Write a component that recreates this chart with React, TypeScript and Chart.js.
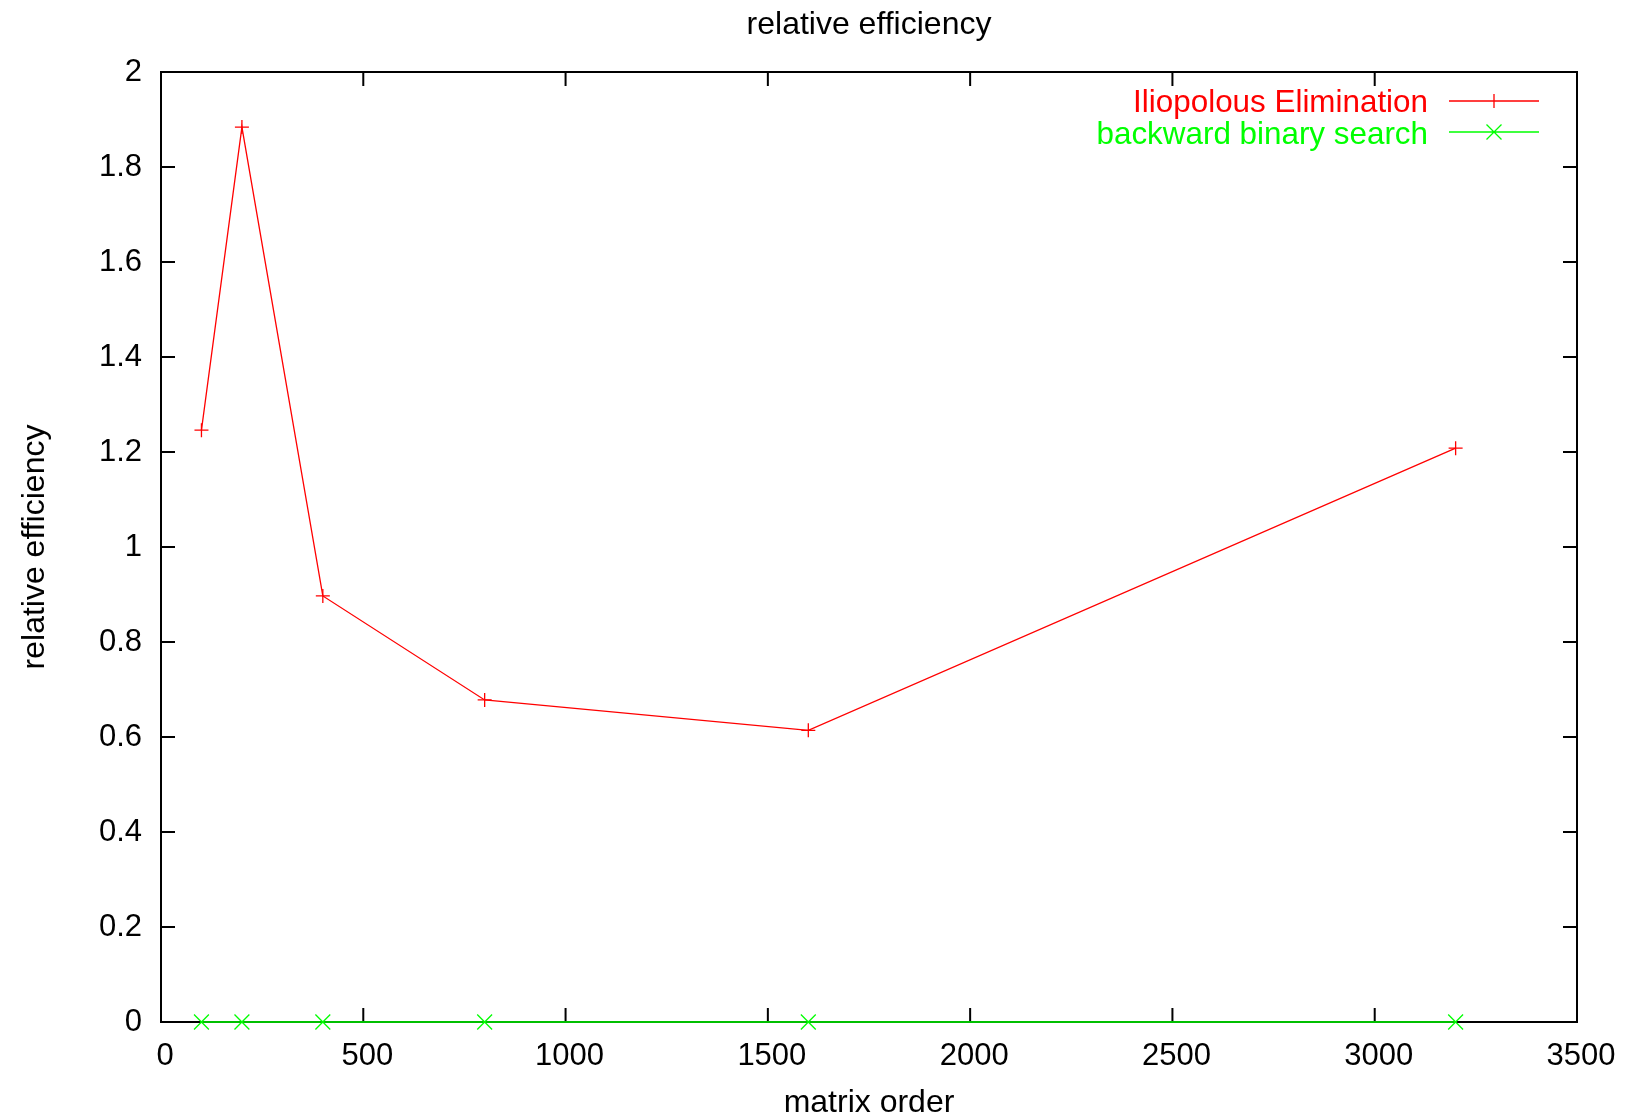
import React, { useEffect, useRef } from "react";
import { Chart, registerables } from "chart.js";

Chart.register(...registerables);

const matrixOrder = [100, 200, 400, 800, 1600, 3200];
const iliopolousValues = [1.246, 1.884, 0.897, 0.678, 0.614, 1.208];
const backwardValues = [0, 0, 0, 0, 0, 0];
const xTickValues = [0, 500, 1000, 1500, 2000, 2500, 3000, 3500];
const yTickValues = [0, 0.2, 0.4, 0.6, 0.8, 1, 1.2, 1.4, 1.6, 1.8, 2];
const seriesNames = ["Iliopolous Elimination", "backward binary search"];
const chartTitle = "relative efficiency";
const xTitle = "matrix order";
const yTitle = "relative efficiency";

const FONT = "'Liberation Sans', Arial, Helvetica, sans-serif";
const RED = "#ff0000";
const GREEN = "#00ff00";

const framePlugin = {
  id: "gnuplotFrame",
  beforeDatasetsDraw(chart: any) {
    const { ctx, chartArea: a, scales } = chart;
    const xs = scales.x;
    const ys = scales.y;
    ctx.save();
    ctx.strokeStyle = "#000";
    ctx.lineWidth = 2;
    ctx.strokeRect(a.left, a.top, a.right - a.left, a.bottom - a.top);
    const tl = 14;
    ctx.beginPath();
    for (const v of xTickValues) {
      const px = xs.getPixelForValue(v);
      ctx.moveTo(px, a.bottom);
      ctx.lineTo(px, a.bottom - tl);
      ctx.moveTo(px, a.top);
      ctx.lineTo(px, a.top + tl);
    }
    for (const v of yTickValues) {
      const py = ys.getPixelForValue(v);
      ctx.moveTo(a.left, py);
      ctx.lineTo(a.left + tl, py);
      ctx.moveTo(a.right, py);
      ctx.lineTo(a.right - tl, py);
    }
    ctx.stroke();
    ctx.restore();
  },
  afterDraw(chart: any) {
    const { ctx, chartArea: a } = chart;
    const cx = (a.left + a.right) / 2;
    const cy = (a.top + a.bottom) / 2;
    ctx.save();
    ctx.font = `32px ${FONT}`;
    ctx.fillStyle = "#000";
    ctx.textAlign = "center";
    ctx.textBaseline = "alphabetic";
    ctx.fillText(chartTitle, cx, 34);
    ctx.fillText(xTitle, cx, 1112);
    ctx.save();
    ctx.translate(44, cy);
    ctx.rotate(-Math.PI / 2);
    ctx.fillText(yTitle, 0, 0);
    ctx.restore();

    // legend
    const colors = [RED, GREEN];
    const textBase = [112, 144];
    const lineY = [101, 132];
    ctx.font = `31.4px ${FONT}`;
    ctx.textAlign = "right";
    for (let i = 0; i < seriesNames.length; i++) {
      ctx.fillStyle = colors[i];
      ctx.fillText(seriesNames[i], 1428, textBase[i]);
      ctx.strokeStyle = colors[i];
      ctx.lineWidth = 1.3;
      ctx.beginPath();
      ctx.moveTo(1449, lineY[i]);
      ctx.lineTo(1539, lineY[i]);
      const mx = 1494;
      const my = lineY[i];
      if (i === 0) {
        ctx.moveTo(mx, my - 7);
        ctx.lineTo(mx, my + 7);
      } else {
        ctx.moveTo(mx - 7.5, my - 7.5);
        ctx.lineTo(mx + 7.5, my + 7.5);
        ctx.moveTo(mx - 7.5, my + 7.5);
        ctx.lineTo(mx + 7.5, my - 7.5);
      }
      ctx.stroke();
    }
    ctx.restore();
  },
};

export default function App() {
  const canvasRef = useRef<HTMLCanvasElement | null>(null);

  useEffect(() => {
    document.body.style.margin = "0";
    const canvas = canvasRef.current;
    if (!canvas) return;
    const chart = new Chart(canvas, {
      type: "line",
      data: {
        datasets: [
          {
            label: seriesNames[0],
            data: matrixOrder.map((x, i) => ({ x, y: iliopolousValues[i] })),
            borderColor: RED,
            backgroundColor: RED,
            borderWidth: 1.3,
            pointStyle: "cross",
            pointRadius: 7,
            pointBorderWidth: 1.3,
            pointBorderColor: RED,
            tension: 0,
            fill: false,
            clip: false as any,
          },
          {
            label: seriesNames[1],
            data: matrixOrder.map((x, i) => ({ x, y: backwardValues[i] })),
            borderColor: GREEN,
            backgroundColor: GREEN,
            borderWidth: 1.5,
            pointStyle: "crossRot",
            pointRadius: 10.5,
            pointBorderWidth: 1.3,
            pointBorderColor: GREEN,
            tension: 0,
            fill: false,
            clip: false as any,
          },
        ],
      },
      options: {
        responsive: false,
        animation: false,
        devicePixelRatio: 1,
        layout: { padding: { top: 72, right: 54, left: 0, bottom: 0 } },
        plugins: {
          legend: { display: false },
          title: { display: false },
          tooltip: { enabled: false },
        },
        scales: {
          x: {
            type: "linear",
            min: 0,
            max: 3500,
            grid: { display: false, drawTicks: false },
            border: { display: false },
            ticks: {
              stepSize: 500,
              padding: 16,
              labelOffset: 4,
              color: "#000",
              font: { family: FONT, size: 31 },
              maxRotation: 0,
              autoSkip: false,
              callback: (v: any) => String(v),
            },
            afterFit: (s: any) => {
              s.height = 98;
            },
          },
          y: {
            type: "linear",
            min: 0,
            max: 2,
            grid: { display: false, drawTicks: false },
            border: { display: false },
            ticks: {
              stepSize: 0.2,
              padding: 19,
              color: "#000",
              font: { family: FONT, size: 31 },
              autoSkip: false,
              callback: (v: any) => String(Math.round(Number(v) * 10) / 10),
            },
            afterFit: (s: any) => {
              s.width = 161;
            },
          },
        },
      },
      plugins: [framePlugin],
    } as any);
    return () => chart.destroy();
  }, []);

  return (
    <div style={{ width: 1631, height: 1120 }}>
      <canvas ref={canvasRef} width={1631} height={1120} style={{ display: "block" }} />
    </div>
  );
}
